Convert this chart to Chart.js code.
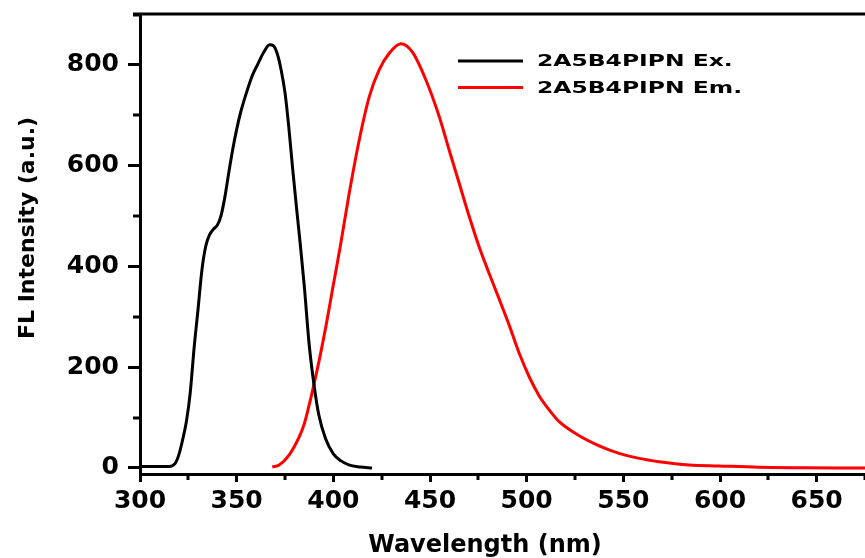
<!DOCTYPE html>
<html><head><meta charset="utf-8">
<script src="https://cdn.jsdelivr.net/npm/chart.js@4.4.1/dist/chart.umd.min.js"></script>
<style>html,body{margin:0;padding:0;background:#fff;}#wrap{width:865px;height:558px;position:relative;overflow:hidden;background:#fff}</style>
</head><body><div id="wrap"><canvas id="c" width="865" height="558"></canvas></div>
<script>
const exWavelength = [300,305,310,315,318,320,322,324,326,328,330,332,334,336,338,340,342,344,346,348,350,352,355,358,361,364,367,369,371,373,375,377,379,381,383,385,387.5,390,392.5,396,400,404,408,414,420];
const exIntensity  = [3,3,3,3,8,25,55,92,150,239,314,392,440,463,474,482,502,540,588,633,672,705,744,778,802,825,840,838,822,790,745,675,592,515,440,360,245,165,105,58,28,14,6,2,0];
const emWavelength = [368.4,372,377.2,382.4,385,387.5,390.1,392.7,396.2,399.6,403.6,408.2,413.4,418.6,423.7,428.9,434.9,441,447.9,454.8,459.9,465.1,470.3,475.4,480.6,485.8,491,496.1,501.3,506.5,511.7,516.8,527.2,537.5,547.8,558.2,568.5,584,599.5,620,641,660,680];
const emIntensity  = [2,6,26,62,88,125,168,214,282,355,440,545,651,737,790,823,842,825,770,697,631,565,499,439,386,335,283,228,181,143,115,92,64,44,29,19,12.5,6,4,1.5,0.5,0,0];
const seriesLabels = ['2A5B4PIPN Ex.', '2A5B4PIPN Em.'];
const seriesColors = ['#000000', '#ff0000'];
const xMajorTicks = [300,350,400,450,500,550,600,650];
const xMinorTicks = [325,375,425,475,525,575,625,675];
const yMajorTicks = [0,200,400,600,800];
const yMinorTicks = [100,300,500,700,900];
const xTitle = 'Wavelength (nm)';
const yTitle = 'FL Intensity (a.u.)';

function toPoints(xs, ys){ return xs.map((x,i)=>({x:x, y:ys[i]})); }

const extras = {
  id: 'extras',
  afterDraw(chart){
    const ctx = chart.ctx, ca = chart.chartArea;
    const xs = chart.scales.x, ys = chart.scales.y;
    ctx.save();
    ctx.strokeStyle = '#000'; ctx.lineWidth = 3; ctx.lineCap = 'butt';
    ctx.beginPath(); ctx.moveTo(ca.left - 7, ca.top); ctx.lineTo(ca.right, ca.top); ctx.stroke();
    xMinorTicks.forEach(v=>{
      const p = Math.round(xs.getPixelForValue(v));
      if (p > ca.right + 2) return;
      ctx.beginPath(); ctx.moveTo(p, ca.bottom); ctx.lineTo(p, ca.bottom + 6); ctx.stroke();
    });
    yMinorTicks.forEach(v=>{
      const p = Math.round(ys.getPixelForValue(v));
      ctx.beginPath(); ctx.moveTo(ca.left, p); ctx.lineTo(ca.left - 7, p); ctx.stroke();
    });
    ctx.fillStyle = '#000';
    ctx.textAlign = 'center'; ctx.textBaseline = 'middle';
    ctx.font = 'bold 24px "DejaVu Sans"';
    ctx.fillText(xTitle, ca.left + 345, 546);
    ctx.save();
    ctx.translate(28, ca.top + 214);
    ctx.rotate(-Math.PI/2);
    ctx.font = 'bold 22px "DejaVu Sans"';
    ctx.fillText(yTitle, 0, 0);
    ctx.restore();
    chart.data.datasets.forEach((ds, i)=>{
      const ly = ca.top + 47 + i * 26.5;
      ctx.strokeStyle = ds.borderColor; ctx.lineWidth = 3;
      ctx.beginPath(); ctx.moveTo(458, ly); ctx.lineTo(523, ly); ctx.stroke();
      ctx.save();
      ctx.translate(537, ly);
      ctx.scale(1.42, 1);
      ctx.fillStyle = '#000'; ctx.textAlign = 'left'; ctx.textBaseline = 'middle';
      ctx.font = 'bold 16.5px "DejaVu Sans"';
      ctx.fillText(ds.label, 0, 1);
      ctx.restore();
    });
    ctx.restore();
  }
};

new Chart(document.getElementById('c'), {
  type: 'line',
  data: {
    datasets: [
      { label: seriesLabels[0], data: toPoints(exWavelength, exIntensity), borderColor: seriesColors[0], borderWidth: 3, pointRadius: 0, fill: false, cubicInterpolationMode: 'monotone' },
      { label: seriesLabels[1], data: toPoints(emWavelength, emIntensity), borderColor: seriesColors[1], borderWidth: 3, pointRadius: 0, fill: false, cubicInterpolationMode: 'monotone' }
    ]
  },
  options: {
    responsive: false, animation: false, devicePixelRatio: 1,
    layout: { padding: { top: 14, right: 0, left: 0, bottom: 0 } },
    plugins: { legend: { display: false }, tooltip: { enabled: false } },
    scales: {
      x: {
        type: 'linear', min: 300, max: 675,
        afterBuildTicks: s => { s.ticks = xMajorTicks.map(v=>({value:v})); },
        afterFit: s => { s.height = 84; s.paddingLeft = 0; s.paddingRight = 0; },
        ticks: { color: '#000', font: { family: 'DejaVu Sans', weight: 'bold', size: 25 }, padding: 4, maxRotation: 0, autoSkip: false },
        grid: { drawOnChartArea: false, drawTicks: true, tickLength: 8, tickWidth: 3, tickColor: '#000' },
        border: { display: true, color: '#000', width: 3 }
      },
      y: {
        type: 'linear', min: -12, max: 901,
        afterBuildTicks: s => { s.ticks = yMajorTicks.map(v=>({value:v})); },
        afterFit: s => { s.width = 140; s.paddingTop = 0; s.paddingBottom = 0; },
        ticks: { color: '#000', font: { family: 'DejaVu Sans', weight: 'bold', size: 25 }, padding: 9, autoSkip: false },
        grid: { drawOnChartArea: false, drawTicks: true, tickLength: 12, tickWidth: 3, tickColor: '#000' },
        border: { display: true, color: '#000', width: 3 }
      }
    }
  },
  plugins: [extras]
});
</script></body></html>
